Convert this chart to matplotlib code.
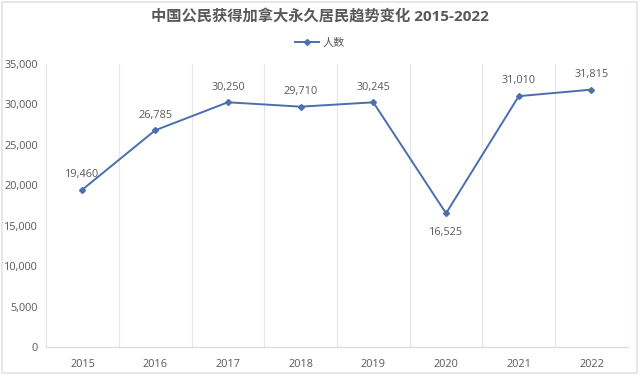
import matplotlib
matplotlib.use("Agg")
import matplotlib.pyplot as plt
from matplotlib.patches import Rectangle

plt.rcParams['font.family'] = ['Open Sans', 'Noto Sans CJK SC', 'DejaVu Sans']

years = ["2015", "2016", "2017", "2018", "2019", "2020", "2021", "2022"]
values = [19460, 26785, 30250, 29710, 30245, 16525, 31010, 31815]
series_name = "人数"
title = "中国公民获得加拿大永久居民趋势变化 2015-2022"
yticks = [0, 5000, 10000, 15000, 20000, 25000, 30000, 35000]

text_color = "#595959"
line_color = "#4a6eae"

fig = plt.figure(figsize=(6.4, 3.77), dpi=100)
fig.patches.append(Rectangle((0.003, 0.01), 0.992, 0.985, transform=fig.transFigure,
                             fill=False, edgecolor="#e3e3e3", linewidth=1.2))
ax = fig.add_axes([0.072, 0.0796, 0.909, 0.751])

x = list(range(len(years)))
ax.plot(x, values, color=line_color, linewidth=1.4, marker="D", markersize=3,
        label=series_name, zorder=3)

ax.set_xlim(-0.5, len(years) - 0.5)
ax.set_ylim(0, 35000)
ax.set_yticks(yticks)
ax.set_yticklabels([f"{v:,}" for v in yticks], fontsize=7.8, color=text_color)
ax.set_xticks(x)
ax.set_xticklabels(years, fontsize=7.8, color=text_color)
ax.tick_params(axis='y', length=0, pad=6)
ax.tick_params(axis='x', length=0, pad=9)

for b in range(len(years) + 1):
    ax.axvline(b - 0.5, color="#e6e6e6", linewidth=0.8, zorder=1)

for s in ["top", "right", "left"]:
    ax.spines[s].set_visible(False)
ax.spines["bottom"].set_color("#d9d9d9")

for i, v in enumerate(values):
    if v == min(values):
        ax.annotate(f"{v:,}", (i, v), xytext=(0, -10), textcoords="offset points",
                    ha="center", va="top", fontsize=7.8, color=text_color)
    else:
        ax.annotate(f"{v:,}", (i, v), xytext=(0, 7), textcoords="offset points",
                    ha="center", va="bottom", fontsize=7.8, color=text_color)

fig.text(0.5, 0.955, title, ha="center", va="center", fontsize=11,
         fontweight="bold", color=text_color)
fig.legend(loc="center", bbox_to_anchor=(0.5, 0.885), frameon=False, fontsize=8,
           labelcolor=text_color, handlelength=2.2, handletextpad=0.3)

fig.savefig("out.png", dpi=100)
